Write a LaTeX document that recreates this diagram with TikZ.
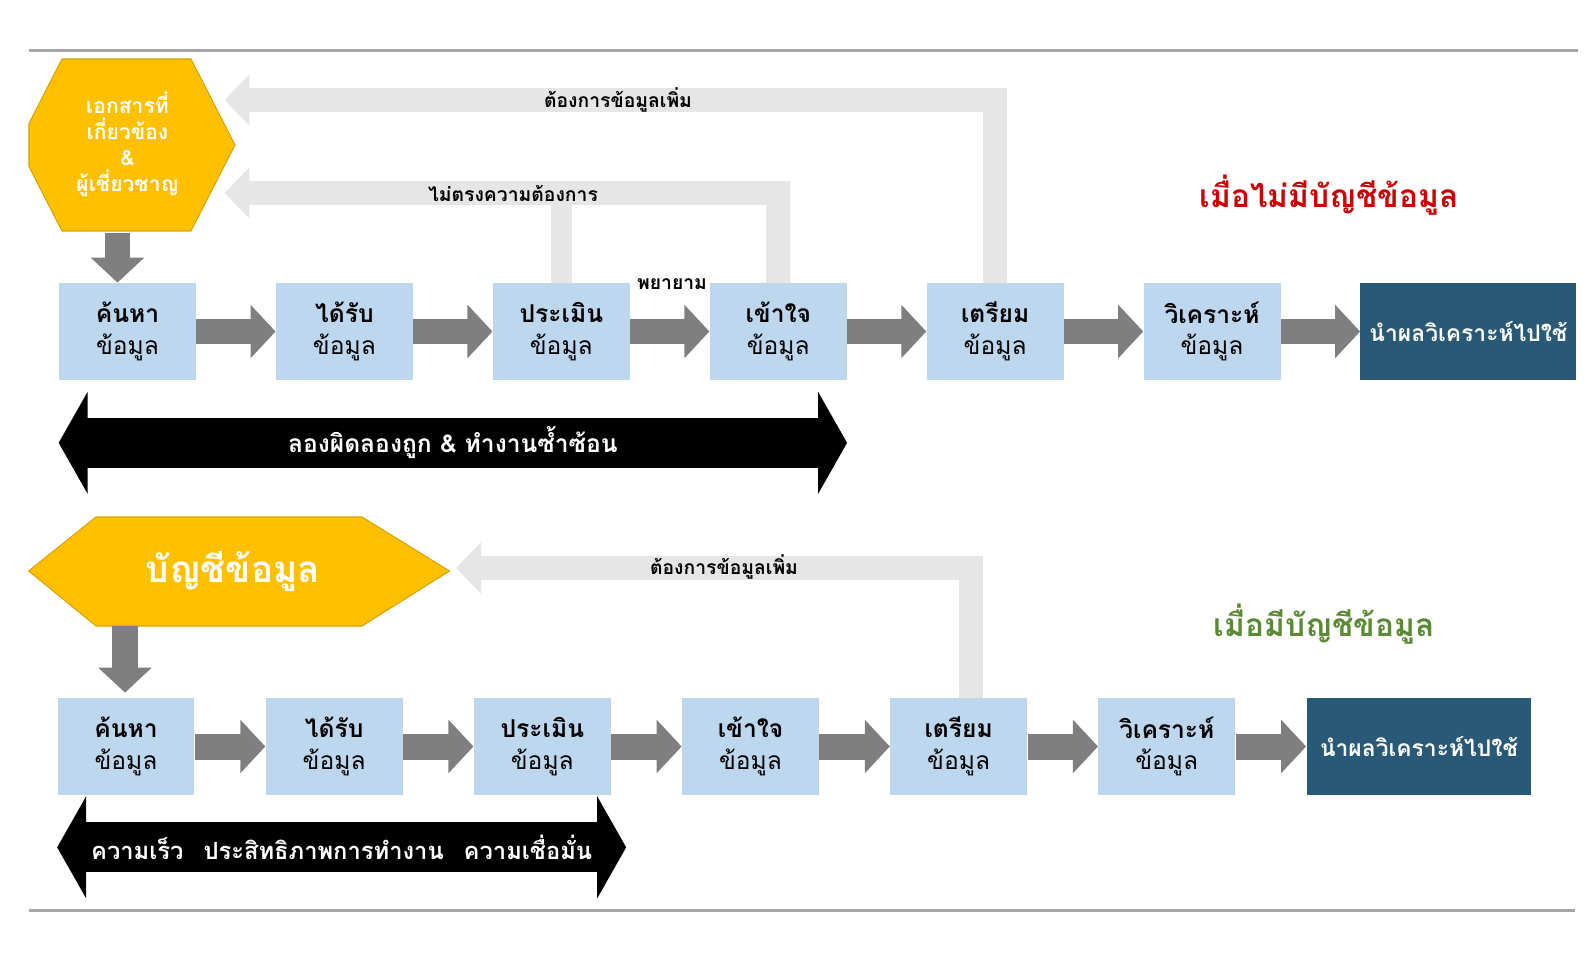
\documentclass[tikz,border=0pt]{standalone}
\usepackage{fontspec}
\usepackage{xcolor}
\usetikzlibrary{arrows.meta, positioning, calc}
\newfontfamily\thaifont[Script=Thai]{Loma}
\definecolor{cBox}{HTML}{BDD7EE}
\definecolor{cDark}{HTML}{285A78}
\definecolor{cArrow}{HTML}{7F7F7F}
\definecolor{cFeed}{HTML}{E7E6E6}
\definecolor{cYellow}{HTML}{FFC000}
\definecolor{cRule}{HTML}{A6A6A6}
\definecolor{cRed}{HTML}{CC0000}
\definecolor{cGreen}{HTML}{5A8A32}

\begin{document}
\begin{tikzpicture}[
    x=0.02cm, y=-0.02cm,
    font=\thaifont,
    stage/.style={fill=cBox, minimum width=2.74cm, minimum height=1.94cm,
                  inner sep=0pt, align=center,
                  font=\thaifont\fontsize{14}{18}\selectfont},
    result/.style={fill=cDark, text=white, minimum height=1.94cm, inner sep=0pt,
                   font=\thaifont\bfseries\fontsize{13}{16}\selectfont},
    flow/.style={draw=cArrow, line width=0.52cm,
                 -{Triangle[length=0.5cm, width=1.04cm]}},
    fb/.style={draw=cFeed, line width=0.48cm, line join=miter,
               -{Triangle[length=0.5cm, width=1cm]}},
    fbline/.style={draw=cFeed, line width=0.42cm},
    bothway/.style={draw=black, line width=1cm,
                    {Triangle[length=0.58cm, width=2.02cm]}-{Triangle[length=0.58cm, width=2.02cm]}},
    lbl/.style={font=\thaifont\bfseries\fontsize{11}{13}\selectfont},
    spantxt/.style={text=white, font=\thaifont\bfseries\fontsize{14}{16}\selectfont},
    hexfill/.style={fill=cYellow, draw=cYellow!85!black, line width=0.6pt},
    hextxt/.style={text=white, align=center, inner sep=0pt},
    title/.style={font=\thaifont\bfseries\fontsize{18}{21}\selectfont},
  ]
  \useasboundingbox (0,0) rectangle (1591,959);

  % ── RULES ──
  \draw[cRule, line width=0.06cm] (29,51) -- (1578,51);
  \draw[cRule, line width=0.06cm] (29,910) -- (1575,910);

  % ── WITHOUT CATALOGUE ──
  \path[hexfill] (62,59) -- (191,59) -- (235,145) -- (191,231) -- (62,231)
    -- (29,166.5) -- (29,123.5) -- cycle;
  \node[hextxt, font=\thaifont\bfseries\fontsize{12}{14.8}\selectfont] (docs) at (127.5,144)
    {เอกสารที่\\เกี่ยวข้อง\\\&\\ผู้เชี่ยวชาญ};

  \node[stage] (search1) at (127.5,331.5) {{\bfseries ค้นหา}\\ข้อมูล};
  \node[stage, right=1.585cm of search1] (get1) {{\bfseries ได้รับ}\\ข้อมูล};
  \node[stage, right=1.585cm of get1] (eval1) {{\bfseries ประเมิน}\\ข้อมูล};
  \node[stage, right=1.585cm of eval1] (und1) {{\bfseries เข้าใจ}\\ข้อมูล};
  \node[stage, right=1.585cm of und1] (prep1) {{\bfseries เตรียม}\\ข้อมูล};
  \node[stage, right=1.585cm of prep1] (anal1) {{\bfseries วิเคราะห์}\\ข้อมูล};
  \node[result, minimum width=4.32cm, right=1.585cm of anal1] (use1) {นำผลวิเคราะห์ไปใช้};

  \foreach \a/\b in {search1/get1, get1/eval1, eval1/und1, und1/prep1,
                     prep1/anal1, anal1/use1}
    \draw[flow] (\a) -- (\b);

  \coordinate (docsfoot) at (117.5,233);
  \draw[flow] (docsfoot) -- (docsfoot |- search1.north);

  % feedback loops
  \coordinate (moreA) at (224.5,100);
  \coordinate (missA) at (224.5,193);
  \draw[fb] (prep1.north) |- (moreA);
  \draw[fbline] (eval1.north) -- (eval1.north |- missA);
  \draw[fb] (und1.north) |- (missA);
  \node[lbl] at (618,100) {ต้องการข้อมูลเพิ่ม};
  \node[lbl] at (513,193) {ไม่ตรงความต้องการ};
  \node[lbl] at (672,284) {พยายาม};

  \draw[bothway] ([yshift=-1.25cm]search1.south west) -- ([yshift=-1.25cm]und1.south east)
    node[midway, spantxt] {ลองผิดลองถูก \& ทำงานซ้ำซ้อน};

  \node[title, text=cRed] at (1329,195) {เมื่อไม่มีบัญชีข้อมูล};

  % ── WITH CATALOGUE ──
  \path[hexfill] (96,517) -- (362,517) -- (449.5,571) -- (362,626) -- (96,626)
    -- (28.7,571) -- cycle;
  \node[hextxt, font=\thaifont\bfseries\fontsize{21}{25}\selectfont] (catalog) at (233,571)
    {บัญชีข้อมูล};

  \node[stage] (search2) at (126,746.5) {{\bfseries ค้นหา}\\ข้อมูล};
  \node[stage, right=1.41cm of search2] (get2) {{\bfseries ได้รับ}\\ข้อมูล};
  \node[stage, right=1.41cm of get2] (eval2) {{\bfseries ประเมิน}\\ข้อมูล};
  \node[stage, right=1.41cm of eval2] (und2) {{\bfseries เข้าใจ}\\ข้อมูล};
  \node[stage, right=1.41cm of und2] (prep2) {{\bfseries เตรียม}\\ข้อมูล};
  \node[stage, right=1.41cm of prep2] (anal2) {{\bfseries วิเคราะห์}\\ข้อมูล};
  \node[result, minimum width=4.5cm, right=1.41cm of anal2] (use2) {นำผลวิเคราะห์ไปใช้};

  \foreach \a/\b in {search2/get2, get2/eval2, eval2/und2, und2/prep2,
                     prep2/anal2, anal2/use2}
    \draw[flow] (\a) -- (\b);

  \coordinate (catfoot) at (125,626);
  \draw[flow] (catfoot) -- ([yshift=0.1cm]catfoot |- search2.north);

  \coordinate (moreB) at (456,568);
  \draw[fb] ([xshift=0.24cm]prep2.north) |- (moreB);
  \node[lbl] at (724,567) {ต้องการข้อมูลเพิ่ม};

  \draw[bothway] ([yshift=-1.04cm]search2.south west)
    -- ([yshift=-1.04cm, xshift=0.3cm]eval2.south east)
    node[midway, spantxt, font=\thaifont\bfseries\fontsize{13.5}{16}\selectfont]
      {ความเร็ว\hspace{0.4cm}ประสิทธิภาพการทำงาน\hspace{0.4cm}ความเชื่อมั่น};

  \node[title, text=cGreen] at (1324,624) {เมื่อมีบัญชีข้อมูล};
\end{tikzpicture}
\end{document}
